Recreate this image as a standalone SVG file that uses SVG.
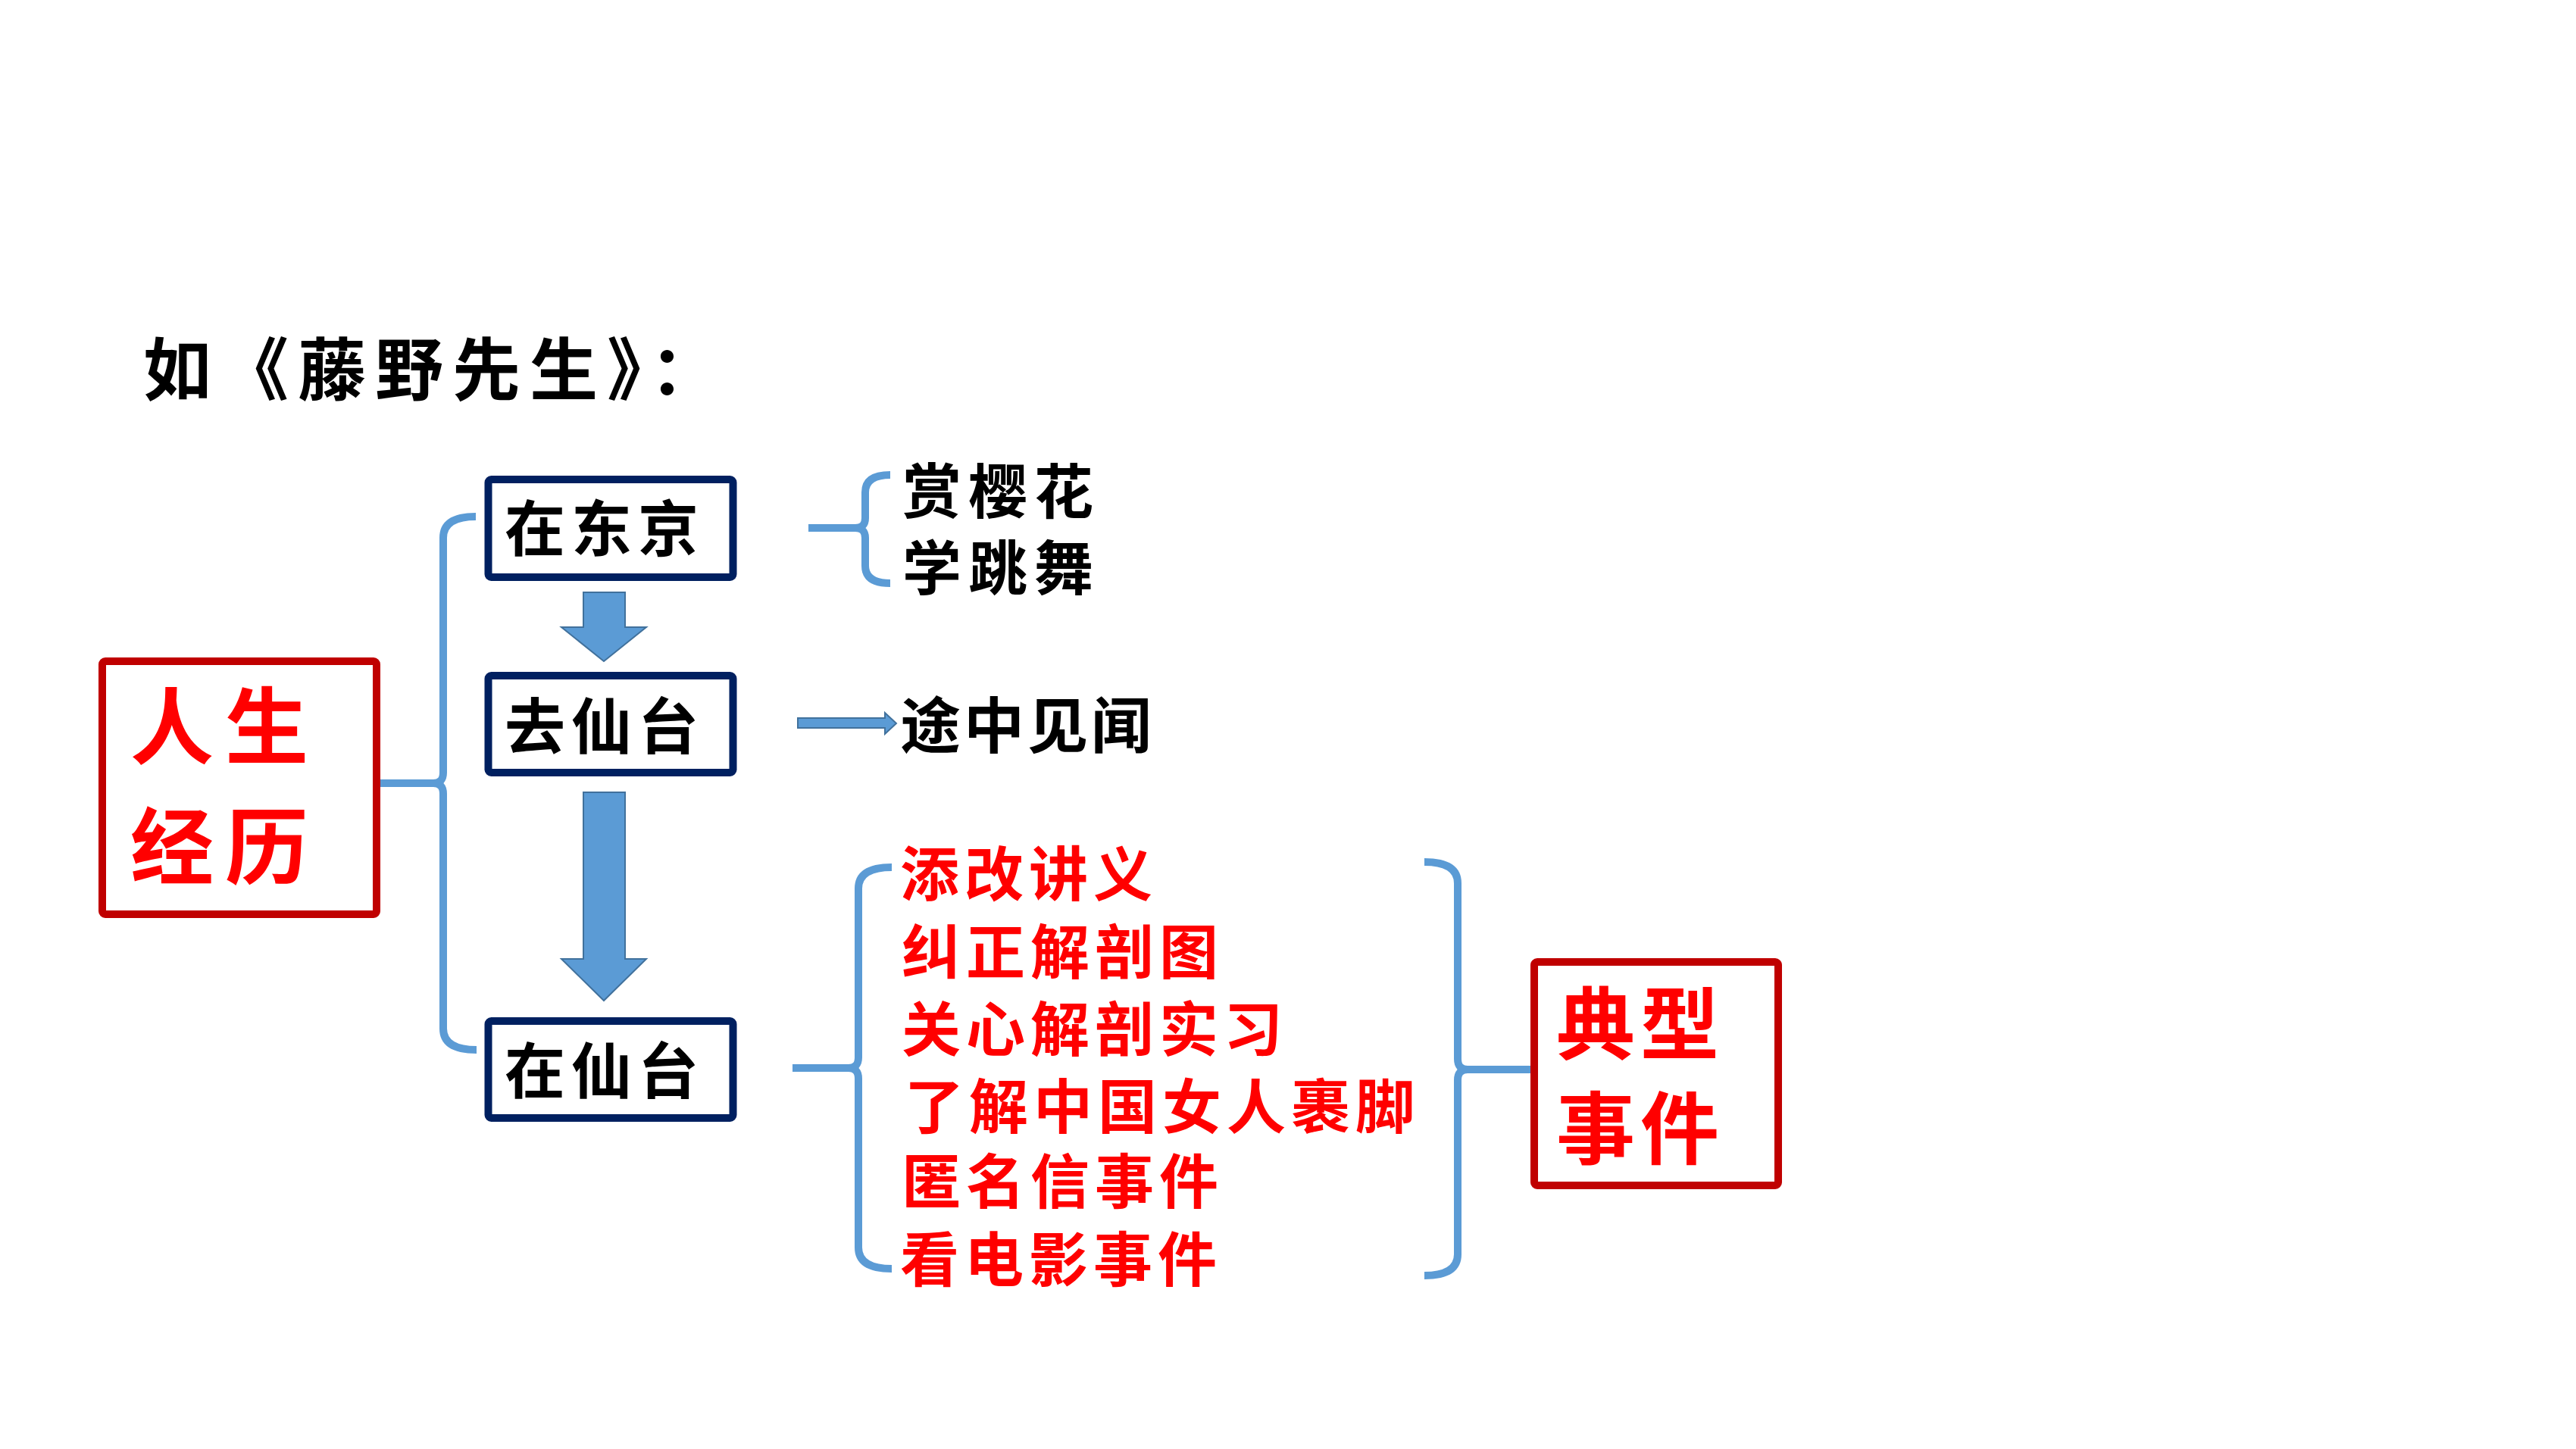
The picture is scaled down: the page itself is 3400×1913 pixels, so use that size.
<svg xmlns="http://www.w3.org/2000/svg" width="3400" height="1913" viewBox="0 0 3400 1913">
<style>
.t{font-family:"Noto Sans CJK SC","Noto Sans CJK JP",sans-serif;font-weight:bold;dominant-baseline:central}
.blk{fill:#000000}
.red{fill:#FF0000}
.nbox{fill:#FFFFFF;stroke:#002060;stroke-width:10}
.rbox{fill:#FFFFFF;stroke:#C00000;stroke-width:10}
.br{fill:none;stroke:#5B9BD5;stroke-width:10;stroke-linejoin:round}
.barrow{fill:#5B9BD5;stroke:#41719C;stroke-width:2}
</style>
<rect width="3400" height="1913" fill="#FFFFFF"/>
<text id="title" class="t blk" x="189" y="482" font-size="90" letter-spacing="12">如《藤野先生》：</text>

<g id="connectors">
  <path class="br" d="M628,682 Q585,682 585,710 L585,1020 Q585,1034 572,1034 Q585,1034 585,1048 L585,1358 Q585,1386 629,1386"/>
  <line class="br" x1="502" y1="1034" x2="574" y2="1034"/>
  <path class="barrow" d="M770,782 L825,782 L825,828 L853,828 L797,873 L741,828 L770,828 Z"/>
  <path class="barrow" d="M770,1046 L825,1046 L825,1266 L853,1266 L797,1321 L741,1266 L770,1266 Z"/>
  <path class="br" d="M1175,627 Q1142,627 1142,650 L1142,684 Q1142,697 1129,697 Q1142,697 1142,710 L1142,747 Q1142,770 1175,770"/>
  <line class="br" x1="1067" y1="697" x2="1131" y2="697"/>
  <path class="barrow" d="M1053,948 L1168,948 L1168,941 L1183,955 L1168,969 L1168,961 L1053,961 Z"/>
  <path class="br" d="M1177,1145 Q1133,1145 1133,1173 L1133,1396 Q1133,1410 1120,1410 Q1133,1410 1133,1424 L1133,1647 Q1133,1675 1177,1675"/>
  <line class="br" x1="1046" y1="1410" x2="1122" y2="1410"/>
  <path class="br" d="M1880,1138 Q1924,1138 1924,1166 L1924,1398 Q1924,1412 1937,1412 Q1924,1412 1924,1426 L1924,1656 Q1924,1684 1880,1684"/>
  <line class="br" x1="1935" y1="1412" x2="2020" y2="1412"/>
</g>

<g id="life">
  <rect class="rbox" x="135" y="873" width="362" height="334" rx="4"/>
  <text class="t red" x="172" y="952" font-size="110" letter-spacing="15">人生</text>
  <text class="t red" x="172" y="1111" font-size="110" letter-spacing="15">经历</text>
</g>
<g id="tokyo">
  <rect class="nbox" x="644.5" y="633" width="323" height="129" rx="4"/>
  <text class="t blk" x="666" y="692" font-size="80" letter-spacing="8">在东京</text>
</g>
<g id="go-sendai">
  <rect class="nbox" x="644.5" y="892" width="323" height="128" rx="4"/>
  <text class="t blk" x="666" y="953" font-size="80" letter-spacing="8">去仙台</text>
</g>
<g id="in-sendai">
  <rect class="nbox" x="644.5" y="1348" width="323" height="128" rx="4"/>
  <text class="t blk" x="666" y="1408" font-size="80" letter-spacing="8">在仙台</text>
</g>
<g id="tokyo-items">
  <text class="t blk" x="1191" y="644" font-size="78" letter-spacing="9">赏樱花</text>
  <text class="t blk" x="1191" y="745" font-size="78" letter-spacing="9">学跳舞</text>
</g>
<g id="journey">
  <text class="t blk" x="1188" y="952" font-size="80" letter-spacing="4">途中见闻</text>
</g>
<g id="sendai-items">
  <text class="t red" x="1188" y="1149" font-size="78" letter-spacing="7">添改讲义</text>
  <text class="t red" x="1190" y="1252" font-size="78" letter-spacing="7">纠正解剖图</text>
  <text class="t red" x="1190" y="1354" font-size="78" letter-spacing="7">关心解剖实习</text>
  <text class="t red" x="1194" y="1456" font-size="78" letter-spacing="7">了解中国女人裹脚</text>
  <text class="t red" x="1190" y="1555" font-size="78" letter-spacing="7">匿名信事件</text>
  <text class="t red" x="1188" y="1658" font-size="78" letter-spacing="7">看电影事件</text>
</g>
<g id="typical">
  <rect class="rbox" x="2025" y="1270" width="322" height="295" rx="4"/>
  <text class="t red" x="2054" y="1345" font-size="104" letter-spacing="7">典型</text>
  <text class="t red" x="2054" y="1483" font-size="104" letter-spacing="7">事件</text>
</g>
</svg>
